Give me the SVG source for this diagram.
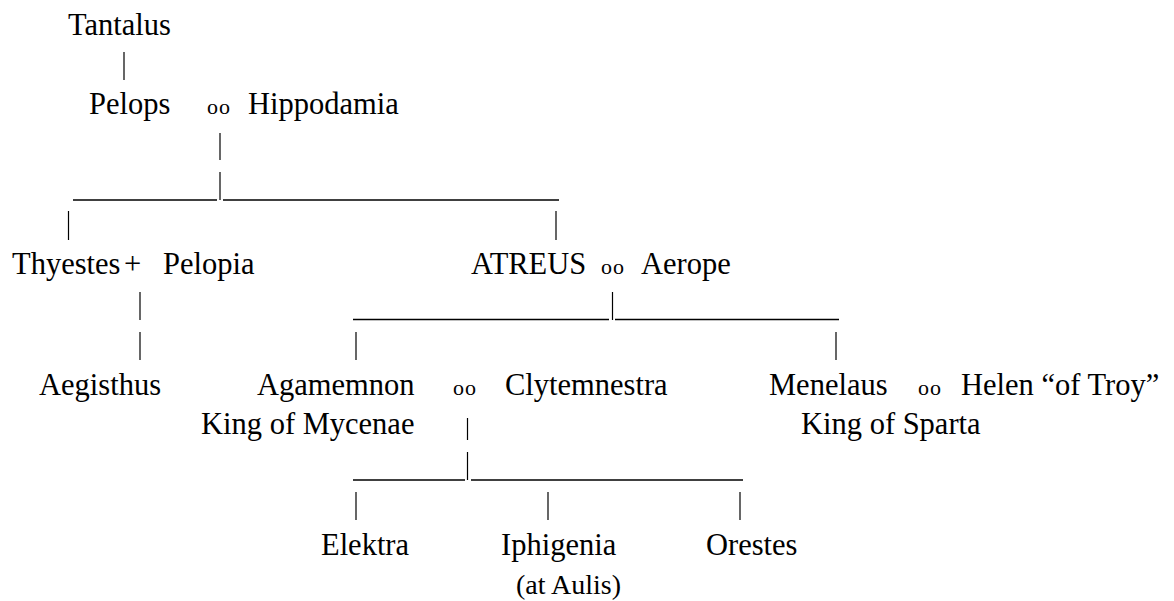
<svg xmlns="http://www.w3.org/2000/svg" width="1174" height="601" viewBox="0 0 1174 601">
  <style>
    text { font-family: "Liberation Serif", "Times New Roman", serif; font-size: 30.5px; fill: #000; }
    .oo { font-size: 22px; letter-spacing: 1px; }
    .small { font-size: 28px; }
    .ln { stroke: #000; stroke-width: 1.2; fill: none; }
    .bar { stroke: #000; stroke-width: 1.4; fill: none; }
  </style>
  <rect width="1174" height="601" fill="#fff"/>
  <g id="connectors">
    <line class="ln" x1="124" y1="52" x2="124" y2="80"/>
    <line class="ln" x1="220" y1="133" x2="220" y2="160"/>
    <line class="ln" x1="220" y1="172" x2="220" y2="200"/>
    <line class="bar" x1="73" y1="200" x2="217" y2="200"/>
    <line class="bar" x1="223" y1="200" x2="559" y2="200"/>
    <line class="ln" x1="68.5" y1="211" x2="68.5" y2="240"/>
    <line class="ln" x1="556" y1="211" x2="556" y2="240"/>
    <line class="ln" x1="140" y1="292" x2="140" y2="320"/>
    <line class="ln" x1="140" y1="332" x2="140" y2="360"/>
    <line class="ln" x1="612.5" y1="292" x2="612.5" y2="320"/>
    <line class="bar" x1="353" y1="319.5" x2="609" y2="319.5"/>
    <line class="bar" x1="615" y1="319.5" x2="839" y2="319.5"/>
    <line class="ln" x1="356" y1="332" x2="356" y2="360"/>
    <line class="ln" x1="836" y1="332" x2="836" y2="360"/>
    <line class="ln" x1="467.5" y1="418" x2="467.5" y2="440"/>
    <line class="ln" x1="467.5" y1="452" x2="467.5" y2="480"/>
    <line class="bar" x1="353" y1="480" x2="465" y2="480"/>
    <line class="bar" x1="471" y1="480" x2="743" y2="480"/>
    <line class="ln" x1="356" y1="492" x2="356" y2="520"/>
    <line class="ln" x1="548" y1="492" x2="548" y2="520"/>
    <line class="ln" x1="740" y1="492" x2="740" y2="520"/>
  </g>
  <g id="unions">
    <text class="oo" x="207" y="113.5">oo</text>
    <text x="124" y="274">+</text>
    <text class="oo" x="601" y="274">oo</text>
    <text class="oo" x="453" y="394.5">oo</text>
    <text class="oo" x="918" y="394.5">oo</text>
  </g>
  <g id="tantalus"><text x="68" y="34.5">Tantalus</text></g>
  <g id="pelops"><text x="89" y="113.5">Pelops</text></g>
  <g id="hippodamia"><text x="248" y="113.5">Hippodamia</text></g>
  <g id="thyestes"><text x="12" y="274">Thyestes</text></g>
  <g id="pelopia"><text x="163" y="274">Pelopia</text></g>
  <g id="atreus"><text x="471" y="274">ATREUS</text></g>
  <g id="aerope"><text x="641" y="274">Aerope</text></g>
  <g id="aegisthus"><text x="39" y="394.5">Aegisthus</text></g>
  <g id="agamemnon">
    <text x="257" y="394.5">Agamemnon</text>
    <text x="201" y="433.5">King of Mycenae</text>
  </g>
  <g id="clytemnestra"><text x="505" y="394.5">Clytemnestra</text></g>
  <g id="menelaus">
    <text x="769" y="394.5">Menelaus</text>
    <text x="801" y="433.5">King of Sparta</text>
  </g>
  <g id="helen"><text x="961" y="394.5">Helen “of Troy”</text></g>
  <g id="elektra"><text x="321" y="554.5">Elektra</text></g>
  <g id="iphigenia">
    <text x="501" y="554.5">Iphigenia</text>
    <text class="small" x="516" y="594">(at Aulis)</text>
  </g>
  <g id="orestes"><text x="706" y="554.5">Orestes</text></g>
</svg>
